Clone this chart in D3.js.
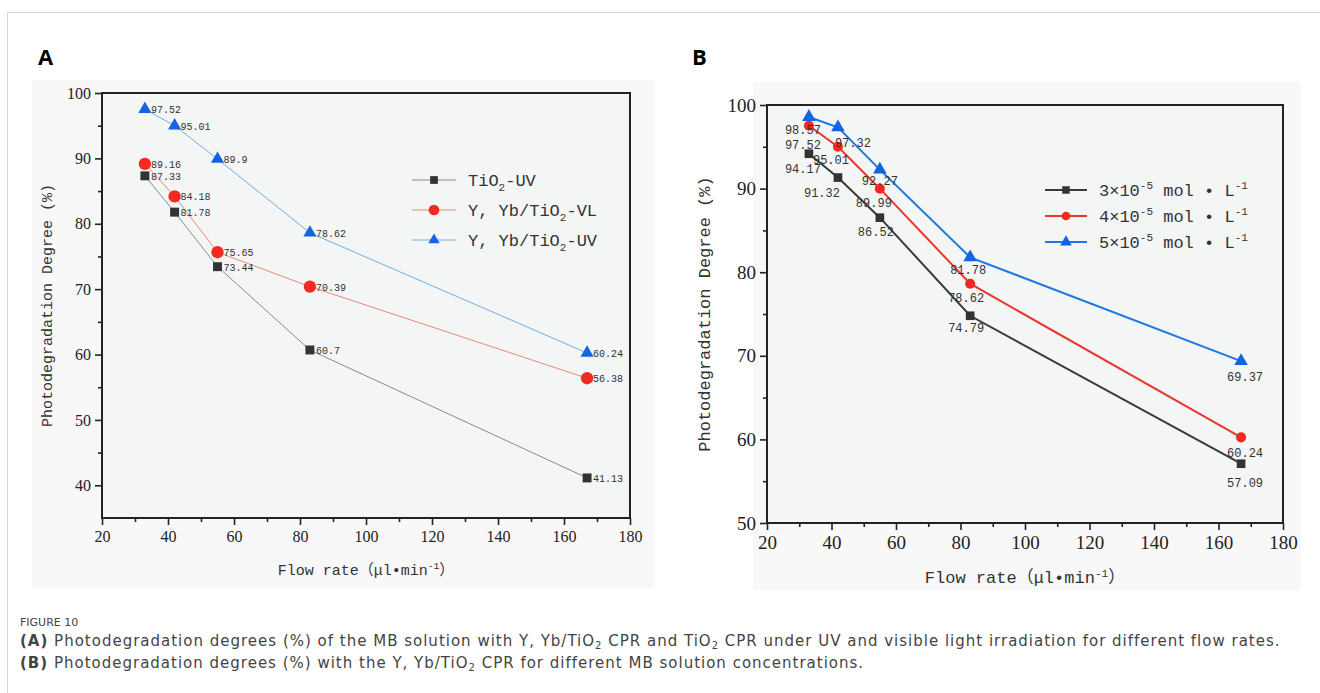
<!DOCTYPE html>
<html>
<head>
<meta charset="utf-8">
<script src="https://cdn.jsdelivr.net/npm/d3@7"></script>
<style>
  body { margin: 0; background: #fff; }
  .tick text { font-family: "Liberation Serif", serif; fill: #222; }
  .domain { display: none; }
  .tick line { stroke: #222; }
  .mono { font-family: "Liberation Mono", "Noto Sans CJK SC", monospace; fill: #333; }
  .cap { font-family: "DejaVu Sans", sans-serif; fill: #444; }
</style>
</head>
<body>
<svg id="fig" width="1320" height="693"></svg>
<script>
// flow rates (µl/min)
const flowRates = [33, 42, 55, 83, 167];

// panel A
const tio2UV = [87.33, 81.78, 73.44, 60.7, 41.13];
const ybVL   = [89.16, 84.18, 75.65, 70.39, 56.38];
const ybUV   = [97.52, 95.01, 89.9, 78.62, 60.24];
const legendA = ["TiO|2|-UV", "Y, Yb/TiO|2|-VL", "Y, Yb/TiO|2|-UV"];

// panel B
const conc3 = [94.17, 91.32, 86.52, 74.79, 57.09];
const conc4 = [97.52, 95.01, 89.99, 78.62, 60.24];
const conc5 = [98.57, 97.32, 92.27, 81.78, 69.37];
const legendB = ["3", "4", "5"];

const xTicks = [20, 40, 60, 80, 100, 120, 140, 160, 180];
const yTicksA = [40, 50, 60, 70, 80, 90, 100];
const yTicksB = [50, 60, 70, 80, 90, 100];

const svg = d3.select("#fig");

// card outline
svg.append("rect").attr("x", 7.5).attr("y", 12.5).attr("width", 1330).attr("height", 700)
   .attr("fill", "none").attr("stroke", "#d6d6d6");

svg.append("text").attr("x", 38).attr("y", 65).text("A")
   .attr("font-family", "Open Sans, sans-serif").attr("font-weight", 700).attr("font-size", 22);
svg.append("text").attr("x", 692).attr("y", 65).text("B")
   .attr("font-family", "Open Sans, sans-serif").attr("font-weight", 700).attr("font-size", 22);

function panel(o) {
    const g = svg.append("g");
    // scanned picture background
    g.append("rect").attr("x", o.img[0]).attr("y", o.img[1]).attr("width", o.img[2]).attr("height", o.img[3])
     .attr("fill", "#f8f8f8");
    g.append("rect").attr("x", o.x0).attr("y", o.y1).attr("width", o.x1 - o.x0).attr("height", o.y0 - o.y1)
     .attr("fill", "#f4f5f5");

    const x = d3.scaleLinear().domain([20, 180]).range([o.x0, o.x1]);
    const y = d3.scaleLinear().domain(o.yDomain).range([o.y0, o.y1]);

    // minor ticks
    g.append("g").attr("transform", `translate(0,${o.y0})`)
     .call(d3.axisBottom(x).tickValues(d3.range(30, 180, 20)).tickSize(4).tickFormat(""));
    g.append("g").attr("transform", `translate(${o.x0},0)`)
     .call(d3.axisLeft(y).tickValues(o.yTicks.slice(0, -1).map(d => d + 5)).tickSize(4).tickFormat(""));
    // major ticks
    const xa = g.append("g").attr("transform", `translate(0,${o.y0})`)
     .call(d3.axisBottom(x).tickValues(xTicks).tickSize(7).tickPadding(6));
    xa.selectAll("text").attr("font-size", o.tickFs);
    const ya = g.append("g").attr("transform", `translate(${o.x0},0)`)
     .call(d3.axisLeft(y).tickValues(o.yTicks).tickSize(7).tickPadding(4));
    ya.selectAll("text").attr("font-size", o.tickFs);
    g.selectAll(".tick line").attr("stroke-width", 1.6);

    // frame
    g.append("rect").attr("x", o.x0).attr("y", o.y1).attr("width", o.x1 - o.x0).attr("height", o.y0 - o.y1)
     .attr("fill", "none").attr("stroke", "#222").attr("stroke-width", 2);

    // axis titles
    g.append("text").attr("class", "mono")
     .attr("transform", `translate(${o.yTitleX},${(o.y0 + o.y1) / 2}) rotate(-90)`)
     .attr("text-anchor", "middle").attr("font-size", o.titleFs).text("Photodegradation Degree (%)");
    const xt = g.append("text").attr("class", "mono").attr("x", (o.x0 + o.x1) / 2).attr("y", o.xTitleY)
     .attr("text-anchor", "middle").attr("font-size", o.titleFs);
    xt.append("tspan").text("Flow rate（μl•min");
    xt.append("tspan").attr("dy", -6).attr("font-size", o.titleFs * 0.65).text("-1");
    xt.append("tspan").attr("dy", 6).text("）");

    const line = d3.line().x((d, i) => x(flowRates[i])).y(d => y(d));
    o.series.forEach(s => {
        g.append("path").datum(s.values).attr("d", line)
         .attr("fill", "none").attr("stroke", s.line).attr("stroke-width", o.lw);
    });
    o.series.forEach(s => {
        g.selectAll(null).data(s.values).join("path")
         .attr("transform", (d, i) => `translate(${x(flowRates[i])},${y(d)})`)
         .attr("d", d3.symbol().type(s.sym).size(s.size))
         .attr("fill", s.fill);
        g.selectAll(null).data(s.values).join("text")
         .attr("class", "mono").attr("fill", "#555")
         .attr("font-size", o.lblFs)
         .attr("x", (d, i) => x(flowRates[i]) + (s.off ? s.off[i][0] : 6))
         .attr("y", (d, i) => y(d) + (s.off ? s.off[i][1] : 4))
         .attr("text-anchor", o.lblAnchor)
         .text(d => String(d));
    });

    // legend
    o.series.forEach((s, i) => {
        const ly = o.legY + i * o.legStep;
        const lg = g.append("g").attr("transform", `translate(${o.legX},${ly})`);
        lg.append("line").attr("x1", 0).attr("x2", o.legLen).attr("stroke", s.line).attr("stroke-width", o.lw);
        lg.append("path").attr("transform", `translate(${o.legLen / 2},0)`)
          .attr("d", d3.symbol().type(s.sym).size(s.size * 0.75)).attr("fill", s.fill);
        const t = lg.append("text").attr("class", "mono").attr("x", o.legLen + 12).attr("y", 6)
          .attr("font-size", o.legFs);
        o.legText(t, i);
    });
}

panel({
    img: [32, 80, 622, 508],
    x0: 102, x1: 630, y0: 518, y1: 93, yDomain: [35, 100], yTicks: yTicksA,
    tickFs: 16, titleFs: 15, yTitleX: 52, xTitleY: 575, lw: 1,
    lblFs: 10, lblAnchor: "start",
    legX: 412, legY: 180, legStep: 30, legLen: 44, legFs: 17,
    legText: (t, i) => {
        const parts = legendA[i].split("|");
        t.append("tspan").text(parts[0]);
        t.append("tspan").attr("dy", 5).attr("font-size", 11).text(parts[1]);
        t.append("tspan").attr("dy", -5).text(parts[2]);
    },
    series: [
        { values: tio2UV, line: "#8a8a8a", fill: "#333", sym: d3.symbolSquare, size: 80 },
        { values: ybVL, line: "#e58a7c", fill: "#f22a22", sym: d3.symbolCircle, size: 120 },
        { values: ybUV, line: "#6fb0e2", fill: "#1563e0", sym: d3.symbolTriangle, size: 75 }
    ]
});

panel({
    img: [753, 82, 548, 508],
    x0: 767, x1: 1283, y0: 523, y1: 105, yDomain: [50, 100], yTicks: yTicksB,
    tickFs: 19, titleFs: 17, yTitleX: 710, xTitleY: 583, lw: 2,
    lblFs: 12, lblAnchor: "middle",
    legX: 1045, legY: 190, legStep: 26, legLen: 42, legFs: 17,
    legText: (t, i) => {
        t.append("tspan").text(legendB[i] + "×10");
        t.append("tspan").attr("dy", -7).attr("font-size", 11).text("-5");
        t.append("tspan").attr("dy", 7).text(" mol • L");
        t.append("tspan").attr("dy", -7).attr("font-size", 11).text("-1");
    },
    series: [
        { values: conc3, line: "#3a3a3a", fill: "#333", sym: d3.symbolSquare, size: 75,
          off: [[-6, 19], [-16, 19], [-4, 18], [-4, 16], [4, 23]] },
        { values: conc4, line: "#e8382c", fill: "#f02a22", sym: d3.symbolCircle, size: 80,
          off: [[-6, 23], [-7, 17], [-6, 18], [-4, 18], [4, 20]] },
        { values: conc5, line: "#1a78e0", fill: "#1265e0", sym: d3.symbolTriangle, size: 80,
          off: [[-6, 17], [15, 20], [0, 15], [-2, 17], [4, 20]] }
    ]
});

// caption
svg.append("text").attr("class", "cap").attr("x", 20).attr("y", 626).attr("font-size", 11)
   .attr("fill", "#666").text("FIGURE 10");
const c1 = svg.append("text").attr("class", "cap").attr("x", 20).attr("y", 646)
   .attr("font-size", 15).attr("letter-spacing", 1.0);
c1.append("tspan").attr("font-weight", 700).text("(A)");
c1.append("tspan").text(" Photodegradation degrees (%) of the MB solution with Y, Yb/TiO");
c1.append("tspan").attr("dy", 3).attr("font-size", 10).text("2");
c1.append("tspan").attr("dy", -3).text(" CPR and TiO");
c1.append("tspan").attr("dy", 3).attr("font-size", 10).text("2");
c1.append("tspan").attr("dy", -3).text(" CPR under UV and visible light irradiation for different flow rates.");
const c2 = svg.append("text").attr("class", "cap").attr("x", 20).attr("y", 668)
   .attr("font-size", 15).attr("letter-spacing", 1.0);
c2.append("tspan").attr("font-weight", 700).text("(B)");
c2.append("tspan").text(" Photodegradation degrees (%) with the Y, Yb/TiO");
c2.append("tspan").attr("dy", 3).attr("font-size", 10).text("2");
c2.append("tspan").attr("dy", -3).text(" CPR for different MB solution concentrations.");
</script>
</body>
</html>
